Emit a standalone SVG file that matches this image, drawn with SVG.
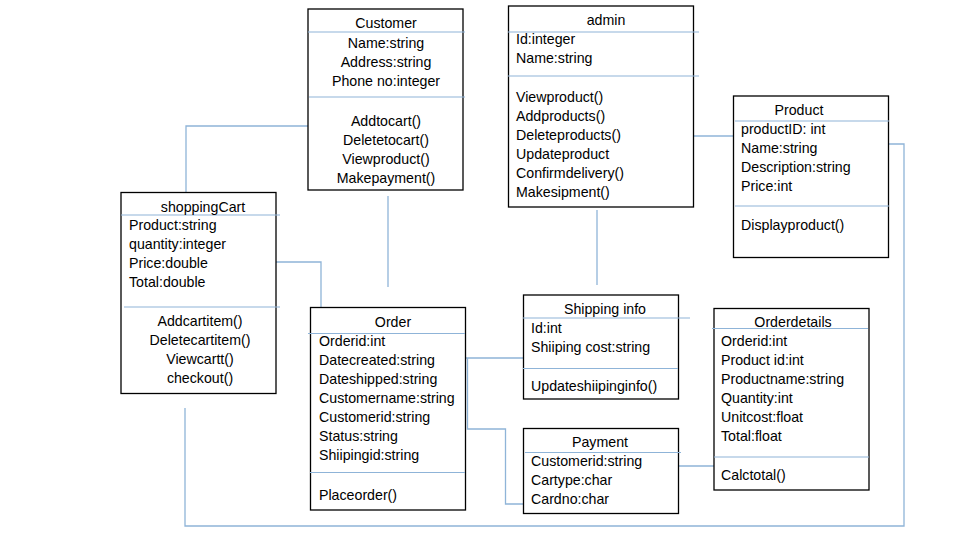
<svg xmlns="http://www.w3.org/2000/svg" width="960" height="540" viewBox="0 0 960 540">
<style>
.box{fill:#fff;stroke:#000;stroke-width:1.3}
.div{stroke:#8fb4d8;stroke-width:1.2;fill:none}
.con{stroke:#8fb4d8;stroke-width:1.3;fill:none}
text{font-family:"Liberation Sans",Arial,sans-serif;font-size:14.2px;fill:#000}
.c{text-anchor:middle}
</style>
<rect width="960" height="540" fill="#fff"/>
<g id="connectors">
<polyline class="con" points="308,126 186,126 186,215"/>
<polyline class="con" points="276,262 321,262 321,307"/>
<line class="con" x1="388" y1="196" x2="388" y2="287"/>
<line class="con" x1="597" y1="210" x2="597" y2="285"/>
<line class="con" x1="693" y1="136" x2="733" y2="136"/>
<polyline class="con" points="466,358 525,358 525,345"/>
<polyline class="con" points="467.5,358 467.5,429 505.5,429 505.5,504 523,504"/>
<polyline class="con" points="679,466 721,466 721,458"/>
<polyline class="con" points="889,144 904,144 904,526 185,526 185,408"/>
</g>
<g id="customer">
<rect class="box" x="308" y="9" width="155" height="181"/>
<line class="div" x1="308" y1="32" x2="465" y2="32"/>
<line class="div" x1="309" y1="97" x2="465" y2="97"/>
<text class="c" x="386" y="28">Customer</text>
<text class="c" x="386" y="48">Name:string</text>
<text class="c" x="386" y="67">Address:string</text>
<text class="c" x="386" y="86">Phone no:integer</text>
<text class="c" x="386" y="126">Addtocart()</text>
<text class="c" x="386" y="145">Deletetocart()</text>
<text class="c" x="386" y="164">Viewproduct()</text>
<text class="c" x="386" y="183">Makepayment()</text>
</g>
<g id="admin">
<rect class="box" x="508.5" y="6" width="185" height="201"/>
<line class="div" x1="508" y1="32" x2="699" y2="32"/>
<line class="div" x1="508" y1="76" x2="699" y2="76"/>
<text class="c" x="606" y="25">admin</text>
<text x="516" y="44">Id:integer</text>
<text x="516" y="63">Name:string</text>
<text x="516" y="102">Viewproduct()</text>
<text x="516" y="121">Addproducts()</text>
<text x="516" y="140">Deleteproducts()</text>
<text x="516" y="159">Updateproduct</text>
<text x="516" y="178">Confirmdelivery()</text>
<text x="516" y="197">Makesipment()</text>
</g>
<g id="product">
<rect class="box" x="733.5" y="96" width="155" height="161.5"/>
<line class="div" x1="735" y1="121" x2="889" y2="121"/>
<line class="div" x1="735" y1="206" x2="889" y2="206"/>
<text class="c" x="799" y="115">Product</text>
<text x="741" y="134">productID: int</text>
<text x="741" y="153">Name:string</text>
<text x="741" y="172">Description:string</text>
<text x="741" y="191">Price:int</text>
<text x="741" y="230">Displayproduct()</text>
</g>
<g id="shoppingCart">
<rect class="box" x="121" y="192.5" width="155" height="201"/>
<line class="div" x1="121" y1="215" x2="280" y2="215"/>
<line class="div" x1="124" y1="307" x2="280" y2="307"/>
<text class="c" x="203" y="212">shoppingCart</text>
<text x="129" y="230">Product:string</text>
<text x="129" y="249">quantity:integer</text>
<text x="129" y="268">Price:double</text>
<text x="129" y="287">Total:double</text>
<text class="c" x="200" y="326">Addcartitem()</text>
<text class="c" x="200" y="345">Deletecartitem()</text>
<text class="c" x="200" y="364">Viewcartt()</text>
<text class="c" x="200" y="383">checkout()</text>
</g>
<g id="order">
<rect class="box" x="310.5" y="307.5" width="155" height="202.5"/>
<line class="div" x1="308" y1="333.5" x2="465" y2="333.5"/>
<line class="div" x1="310" y1="472.5" x2="465" y2="472.5"/>
<text class="c" x="393" y="327">Order</text>
<text x="319" y="346">Orderid:int</text>
<text x="319" y="365">Datecreated:string</text>
<text x="319" y="384">Dateshipped:string</text>
<text x="319" y="403">Customername:string</text>
<text x="319" y="422">Customerid:string</text>
<text x="319" y="441">Status:string</text>
<text x="319" y="460">Shiipingid:string</text>
<text x="319" y="500">Placeorder()</text>
</g>
<g id="shippingInfo">
<rect class="box" x="523.5" y="295" width="155" height="104"/>
<line class="div" x1="523" y1="318" x2="690" y2="318"/>
<line class="div" x1="523" y1="368.5" x2="678" y2="368.5"/>
<text class="c" x="605" y="314">Shipping info</text>
<text x="531" y="333">Id:int</text>
<text x="531" y="352">Shiiping cost:string</text>
<text x="531" y="391">Updateshiipinginfo()</text>
</g>
<g id="payment">
<rect class="box" x="523.5" y="428.5" width="155" height="85"/>
<line class="div" x1="525" y1="452.5" x2="681" y2="452.5"/>
<text class="c" x="600" y="447">Payment</text>
<text x="531" y="466">Customerid:string</text>
<text x="531" y="485">Cartype:char</text>
<text x="531" y="504">Cardno:char</text>
</g>
<g id="orderdetails">
<rect class="box" x="714" y="308.5" width="155" height="181.5"/>
<line class="div" x1="712" y1="328.5" x2="868" y2="328.5"/>
<line class="div" x1="714" y1="457" x2="869" y2="457"/>
<text class="c" x="793" y="327">Orderdetails</text>
<text x="721" y="346">Orderid:int</text>
<text x="721" y="365">Product id:int</text>
<text x="721" y="384">Productname:string</text>
<text x="721" y="403">Quantity:int</text>
<text x="721" y="422">Unitcost:float</text>
<text x="721" y="441">Total:float</text>
<text x="721" y="480">Calctotal()</text>
</g>
</svg>
